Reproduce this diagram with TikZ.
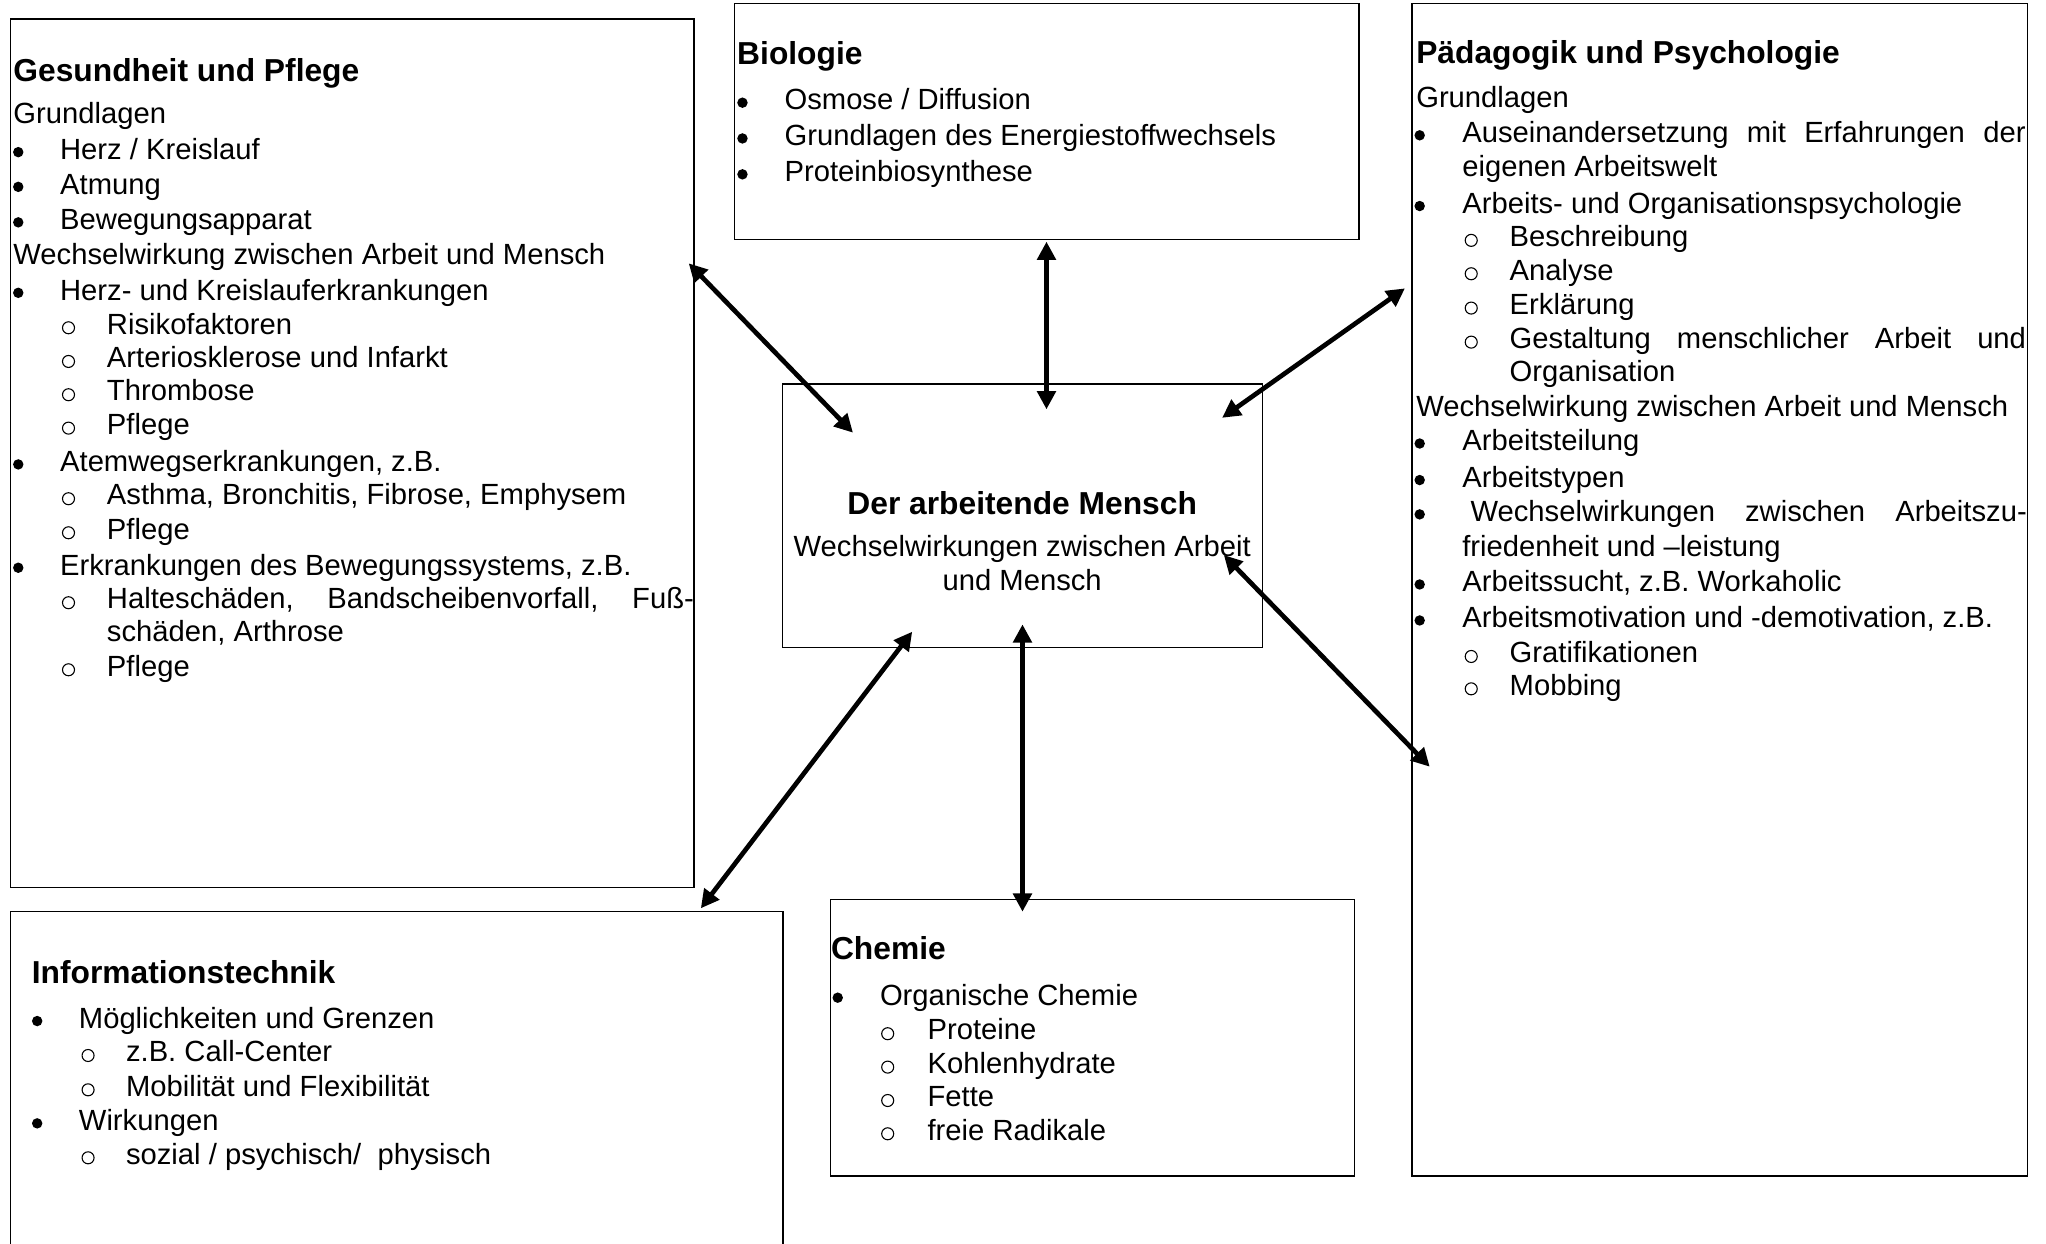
\documentclass[tikz,border=0pt]{standalone}
\usepackage{fontspec}
\setmainfont{Liberation Sans}
\usetikzlibrary{arrows.meta}
\newcounter{lnc}
\newcommand\xPl[3]{\stepcounter{lnc}\node[txt] (L\thelnc) at (#1,#2) {#3};}
\newcommand\xHd[3]{\stepcounter{lnc}\node[hd] (L\thelnc) at (#1,#2) {#3};}
\newcommand\xBu[4]{\stepcounter{lnc}\node[bul] (B\thelnc) at (#1,#3-5.6) {};\node[txt] (L\thelnc) at (#2,#3) {#4};}
\newcommand\xSu[4]{\stepcounter{lnc}\node[subb] (B\thelnc) at (#1,#3-4.8) {};\node[txt] (L\thelnc) at (#2,#3) {#4};}
\begin{document}
\begin{tikzpicture}[x=0.5pt,y=-0.5pt,
  box/.style={draw, line width=0.6pt, anchor=north west, inner sep=0pt, outer sep=0pt},
  txt/.style={inner sep=0pt, anchor=base west, font=\fontsize{11.19pt}{13pt}\selectfont},
  hd/.style={inner sep=0pt, anchor=base west, font=\fontsize{12.17pt}{14pt}\selectfont\bfseries},
  bul/.style={circle, fill=black, inner sep=0pt, minimum size=4pt},
  subb/.style={circle, draw=black, line width=0.42pt, inner sep=0pt, minimum size=4.6pt},
  arr/.style={line width=1.8pt, {Triangle[length=7pt,width=7pt]}-{Triangle[length=7pt,width=7pt]}}]
\useasboundingbox (0,0) rectangle (1568,953);
\clip (0,0) rectangle (1568,953);
\fill[white] (0,0) rectangle (1568,953);

% boxes
\node[box, minimum width=262.05pt, minimum height=332.85pt] (gp) at (7.9,14.6) {};
\node[box, minimum width=239.3pt, minimum height=90.4pt] (bio) at (562.9,2.6) {};
\node[box, minimum width=235.8pt, minimum height=449.35pt] (pp) at (1082.2,2.6) {};
\node[box, minimum width=183.9pt, minimum height=101pt] (dam) at (599.8,294.3) {};
\node[box, minimum width=296pt, minimum height=160pt] (it) at (8,698.7) {};
\node[box, minimum width=200.95pt, minimum height=106.05pt] (ch) at (636.3,689.2) {};

% Gesundheit und Pflege
\xHd{9.9}{62.6}{Gesundheit und Pflege}
\xPl{9.9}{94.5}{Grundlagen}
\xBu{14}{45.7}{122.2}{Herz / Kreislauf}
\xBu{14}{45.7}{148.8}{Atmung}
\xBu{14}{45.7}{176}{Bewegungsapparat}
\xPl{9.9}{203}{Wechselwirkung zwischen Arbeit und Mensch}
\xBu{14}{45.7}{230}{Herz- und Kreislauferkrankungen}
\xSu{52.5}{81.6}{256}{Risikofaktoren}
\xSu{52.5}{81.6}{281.8}{Arteriosklerose und Infarkt}
\xSu{52.5}{81.6}{307.3}{Thrombose}
\xSu{52.5}{81.6}{332.9}{Pflege}
\xBu{14}{45.7}{361.5}{Atemwegserkrankungen, z.B.}
\xSu{52.5}{81.6}{387}{Asthma, Bronchitis, Fibrose, Emphysem}
\xSu{52.5}{81.6}{413.1}{Pflege}
\xBu{14}{45.7}{440.7}{Erkrankungen des Bewegungssystems, z.B.}
\xSu{52.5}{81.6}{466.7}{\hbox to 224.9pt{Halteschäden,\hfill Bandscheibenvorfall,\hfill Fuß-}}
\xPl{81.6}{491.8}{schäden, Arthrose}
\xSu{52.5}{81.6}{518.1}{Pflege}

% Biologie
\xHd{564.6}{49.8}{Biologie}
\xBu{569}{600.9}{84.3}{Osmose / Diffusion}
\xBu{569}{600.9}{111.7}{Grundlagen des Energiestoffwechsels}
\xBu{569}{600.9}{139.2}{Proteinbiosynthese}

% Paedagogik und Psychologie
\xHd{1085}{49}{Pädagogik und Psychologie}
\xPl{1085}{82.3}{Grundlagen}
\xBu{1088}{1120.3}{109.3}{\hbox to 215.85pt{Auseinandersetzung\hfill mit\hfill Erfahrungen\hfill der}}
\xPl{1120.3}{135.4}{eigenen Arbeitswelt}
\xBu{1088}{1120.3}{163.5}{Arbeits- und Organisationspsychologie}
\xSu{1127.5}{1156.6}{189}{Beschreibung}
\xSu{1127.5}{1156.6}{214.6}{Analyse}
\xSu{1127.5}{1156.6}{240.9}{Erklärung}
\xSu{1127.5}{1156.6}{267}{\hbox to 197.85pt{Gestaltung\hfill menschlicher\hfill Arbeit\hfill und}}
\xPl{1156.6}{292.5}{Organisation}
\xPl{1085}{319}{Wechselwirkung zwischen Arbeit und Mensch}
\xBu{1088}{1120.3}{345.5}{Arbeitsteilung}
\xBu{1088}{1120.3}{373.5}{Arbeitstypen}
\xBu{1088}{1126.6}{399.8}{\hbox to 213.15pt{Wechselwirkungen\hfill zwischen\hfill Arbeitszu-}}
\xPl{1120.3}{426.1}{friedenheit und –leistung}
\xBu{1088}{1120.3}{453.5}{Arbeitssucht, z.B. Workaholic}
\xBu{1088}{1120.3}{481.1}{Arbeitsmotivation und -demotivation, z.B.}
\xSu{1127.5}{1156.6}{507.9}{Gratifikationen}
\xSu{1127.5}{1156.6}{532.7}{Mobbing}

% Der arbeitende Mensch
\node[hd, anchor=base] (damT) at (783.4,394) {Der arbeitende Mensch};
\node[txt, anchor=base] (damA) at (783.4,426.6) {Wechselwirkungen zwischen Arbeit};
\node[txt, anchor=base] (damB) at (783.4,452.7) {und Mensch};

% Informationstechnik
\xHd{24}{753.6}{Informationstechnik}
\xBu{28.5}{60.1}{788.1}{Möglichkeiten und Grenzen}
\xSu{67.5}{96.2}{813.7}{z.B. Call-Center}
\xSu{67.5}{96.2}{840}{Mobilität und Flexibilität}
\xBu{28.5}{60.1}{866.5}{Wirkungen}
\xSu{67.5}{96.2}{892.1}{sozial / psychisch/\ \ physisch}

% Chemie
\xHd{636.5}{735.7}{Chemie}
\xBu{642}{674}{770.2}{Organische Chemie}
\xSu{680.3}{710.5}{797}{Proteine}
\xSu{680.3}{710.5}{822.6}{Kohlenhydrate}
\xSu{680.3}{710.5}{848.2}{Fette}
\xSu{680.3}{710.5}{873.7}{freie Radikale}

% connector end points
\coordinate (gpE) at (527.8,201.8);
\coordinate (damGP) at (653.7,331.6);
\coordinate (bioE) at (802,185.2);
\coordinate (damBIO) at (802,313.7);
\coordinate (ppE1) at (1076.7,221);
\coordinate (damPP1) at (936.6,320.2);
\coordinate (damPP2) at (937.9,425.4);
\coordinate (ppE2) at (1095.7,587.6);
\coordinate (itE) at (537.1,696.1);
\coordinate (damIT) at (699.1,484.1);
\coordinate (damCH) at (783.6,478.5);
\coordinate (chE) at (783.6,698.7);

\draw[arr] (gpE) -- (damGP);
\draw[arr] (bioE) -- (damBIO);
\draw[arr] (ppE1) -- (damPP1);
\draw[arr] (damPP2) -- (ppE2);
\draw[arr] (itE) -- (damIT);
\draw[arr] (damCH) -- (chE);
\end{tikzpicture}
\end{document}
